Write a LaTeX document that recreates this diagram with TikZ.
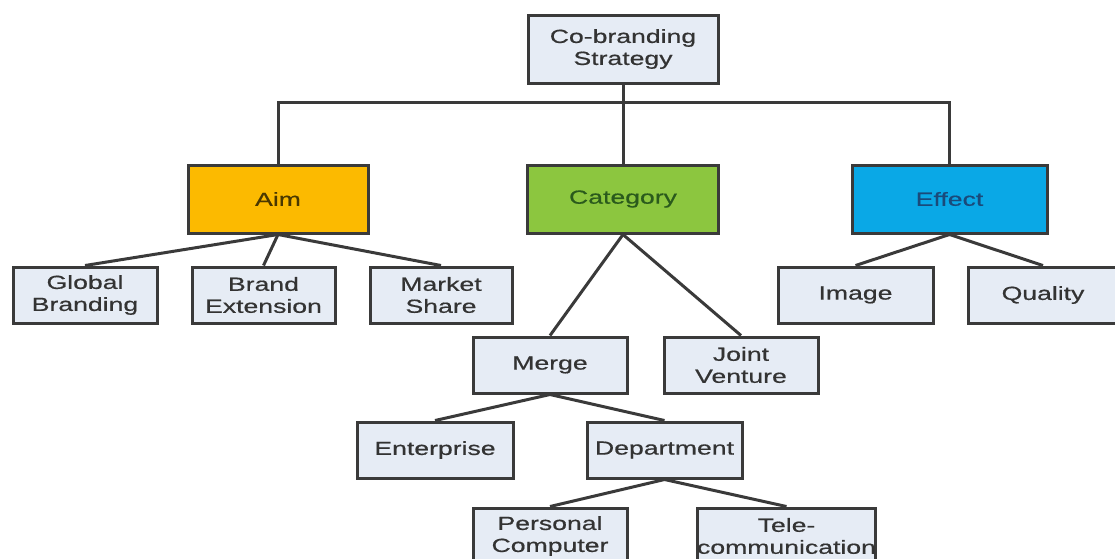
\documentclass[tikz,border=0pt]{standalone}
\usepackage{fontspec}
\setmainfont{Liberation Sans}[FakeStretch=1.4,FakeBold=0.6]
\definecolor{boxfill}{HTML}{E6ECF5}
\definecolor{edgecol}{HTML}{3A3A3A}
\definecolor{txtcol}{HTML}{333333}
\definecolor{aimfill}{HTML}{FCBA00}
\definecolor{catfill}{HTML}{8CC63F}
\definecolor{efffill}{HTML}{0AA8E6}
\definecolor{aimtxt}{HTML}{4A3800}
\definecolor{cattxt}{HTML}{2A5A1C}
\definecolor{efftxt}{HTML}{1A4A7A}
\begin{document}
\begin{tikzpicture}[x=1pt,y=-1pt,
  box/.style={draw=edgecol, line width=3pt, fill=boxfill, text=txtcol,
    align=center, inner sep=0pt, font=\fontsize{19}{22}\selectfont},
  conn/.style={draw=edgecol, line width=3pt}]
\useasboundingbox (0,0) rectangle (1115,558);
\clip (0,0) rectangle (1115,558);
% nodes
\node[box, minimum width=190pt, minimum height=68pt] (top) at (623,49) {Co-branding\\Strategy};
\node[box, fill=aimfill, text=aimtxt, minimum width=180pt, minimum height=68pt] (aim) at (278,199) {Aim};
\node[box, fill=catfill, text=cattxt, minimum width=191pt, minimum height=68pt] (cat) at (623,199) {Category};
\node[box, fill=efffill, text=efftxt, minimum width=195pt, minimum height=68pt] (eff) at (949.5,199) {Effect};
\node[box, minimum width=144pt, minimum height=56pt] (glob) at (85,295) {Global\\Branding};
\node[box, minimum width=143pt, minimum height=56pt] (brand) at (263.5,295) {Brand\\Extension};
\node[box, minimum width=142pt, minimum height=56pt] (market) at (441,295) {Market\\Share};
\node[box, minimum width=155pt, minimum height=56pt] (image) at (855.5,295) {Image};
\node[box, minimum width=150pt, minimum height=56pt] (quality) at (1043,295) {Quality};
\node[box, minimum width=154pt, minimum height=56pt] (merge) at (550,365) {Merge};
\node[box, minimum width=154pt, minimum height=56pt] (joint) at (741,365) {Joint\\Venture};
\node[box, minimum width=156pt, minimum height=56pt] (ent) at (435,450) {Enterprise};
\node[box, minimum width=155pt, minimum height=56pt] (dept) at (664.5,450) {Department};
\node[box, minimum width=154pt, minimum height=56pt] (pc) at (550,536) {Personal\\Computer};
\node[box, minimum width=167pt, minimum height=56pt] (tele) at (786.5,536) {Tele-\\communication};
% connectors
\coordinate (bar) at (623,102);
\draw[conn] (top.south) -- (cat.north);
\draw[conn] (aim.north) |- (bar) -| (eff.north);
\draw[conn] (aim.south) -- (glob.north);
\draw[conn] (aim.south) -- (brand.north);
\draw[conn] (aim.south) -- (market.north);
\draw[conn] (cat.south) -- (merge.north);
\draw[conn] (cat.south) -- (joint.north);
\draw[conn] (eff.south) -- (image.north);
\draw[conn] (eff.south) -- (quality.north);
\draw[conn] (merge.south) -- (ent.north);
\draw[conn] (merge.south) -- (dept.north);
\draw[conn] (dept.south) -- (pc.north);
\draw[conn] (dept.south) -- (tele.north);
\end{tikzpicture}
\end{document}
